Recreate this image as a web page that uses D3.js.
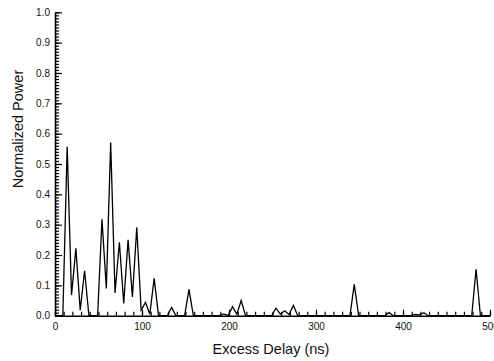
<!DOCTYPE html>
<html>
<head>
<meta charset="utf-8">
<script src="https://cdn.jsdelivr.net/npm/d3@7"></script>
<style>
  body { margin: 0; background: #fff; }
  svg { display: block; font-family: "Liberation Sans", Arial, sans-serif; }
  .axis path, .axis line { stroke: #000; }
  .axis line { stroke-width: 1.2; }
  .axis text { fill: #111; font-size: 10px; }
</style>
</head>
<body>
<div id="chart"></div>
<script>
// vertices of the delay profile (ns) and normalized power
const delay = [0, 4, 9, 14, 19, 24, 29, 34, 39, 44, 49, 54, 59, 64, 69, 74, 79, 84, 89, 94,
  99, 104, 109, 114, 119, 129, 134, 139, 149, 154, 159, 189, 194, 199, 204, 209, 214, 219,
  249, 254, 259, 264, 269, 274, 279, 339, 344, 349, 379, 384, 389, 409, 414, 419, 424, 429,
  479, 484, 489, 500]
const power = [0, 0, 0, 0.557, 0.068, 0.222, 0.018, 0.148, 0, 0, 0, 0.318, 0.09, 0.571, 0.075, 0.242, 0.04, 0.25, 0.062, 0.291,
  0.018, 0.044, 0.005, 0.123, 0, 0, 0.027, 0, 0, 0.087, 0, 0, 0.006, 0, 0.03, 0.005, 0.05, 0,
  0, 0.025, 0.005, 0.016, 0.004, 0.034, 0, 0, 0.103, 0, 0, 0.01, 0, 0, 0.004, 0.003, 0.01, 0,
  0, 0.153, 0, 0]

const yTicks = [0, 0.1, 0.2, 0.3, 0.4, 0.5, 0.6, 0.7, 0.8, 0.9, 1.0]
const xTicks = [0, 100, 200, 300, 400, 500]

const W = 494, H = 361

const svg = d3.select('#chart').append('svg')
  .attr('width', W)
  .attr('height', H)

const x = d3.scaleLinear().domain([0, 500]).range([55, 490])
const y = d3.scaleLinear().domain([0, 1]).range([315.7, 12.3])

// minor ticks first (no labels), then the labelled major ones on top
svg.append('g').attr('class', 'axis')
  .attr('transform', `translate(${x(0)},0)`)
  .call(d3.axisLeft(y).tickValues(d3.range(0, 1.001, 0.01)).tickSizeInner(-4).tickSizeOuter(0).tickFormat(''))
  .call(g => g.select('.domain').remove())

svg.append('g').attr('class', 'axis')
  .attr('transform', `translate(${x(0)},0)`)
  .call(d3.axisLeft(y).tickValues(yTicks).tickSizeInner(-7).tickSizeOuter(0).tickPadding(5)
    .tickFormat(d3.format('.1f')))
  .call(g => g.select('.domain').attr('stroke-width', 1.6))

svg.append('g').attr('class', 'axis')
  .attr('transform', `translate(0,${y(0)})`)
  .call(d3.axisBottom(x).tickValues(d3.range(0, 501, 10)).tickSizeInner(-4).tickSizeOuter(0).tickFormat(''))
  .call(g => g.select('.domain').remove())

svg.append('g').attr('class', 'axis')
  .attr('transform', `translate(0,${y(0)})`)
  .call(d3.axisBottom(x).tickValues(xTicks).tickSizeInner(-6).tickSizeOuter(0).tickPadding(7)
    .tickFormat(d3.format('d')))
  .call(g => g.select('.domain').attr('stroke-width', 1.6))

// the profile
const line = d3.line()
  .x(i => x(delay[i]))
  .y(i => y(power[i]))

svg.append('path')
  .datum(d3.range(delay.length))
  .attr('d', line)
  .attr('fill', 'none')
  .attr('stroke', '#000')
  .attr('stroke-width', 1.3)
  .attr('stroke-linejoin', 'miter')

// axis titles
svg.append('text')
  .attr('x', 271)
  .attr('y', 354)
  .attr('text-anchor', 'middle')
  .style('font-size', '14.5px')
  .attr('fill', '#111')
  .text('Excess Delay (ns)')

svg.append('text')
  .attr('transform', 'translate(23,129) rotate(-90)')
  .attr('text-anchor', 'middle')
  .style('font-size', '14.5px')
  .attr('fill', '#111')
  .text('Normalized Power')
</script>
</body>
</html>
